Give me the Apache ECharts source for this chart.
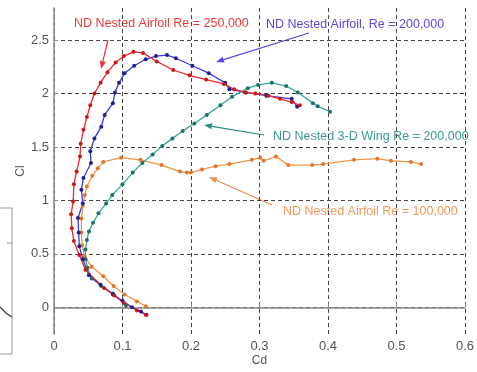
<!DOCTYPE html>
<html>
<head>
<meta charset="utf-8">
<script src="https://cdn.jsdelivr.net/npm/echarts@6/dist/echarts.min.js"></script>
<style>
  html, body { margin: 0; padding: 0; background: #fff; }
  #chart { width: 477px; height: 372px; }
</style>
</head>
<body>
<div id="chart"></div>
<script>
// drag polars, [Cd, Cl]
var airfoil250 = [
  [0.134, -0.07], [0.121, -0.03], [0.102, 0.04], [0.088, 0.11], [0.073, 0.18],
  [0.046, 0.35], [0.037, 0.49], [0.029, 0.62], [0.026, 0.74], [0.025, 0.87],
  [0.028, 0.99], [0.029, 1.15], [0.033, 1.27], [0.038, 1.41], [0.039, 1.53],
  [0.043, 1.66], [0.048, 1.78], [0.053, 1.89], [0.059, 2.00], [0.068, 2.10],
  [0.078, 2.20], [0.090, 2.29], [0.102, 2.35], [0.116, 2.39], [0.130, 2.38],
  [0.150, 2.30], [0.174, 2.22], [0.198, 2.17], [0.222, 2.13], [0.248, 2.09],
  [0.263, 2.04], [0.279, 2.01], [0.294, 2.00], [0.313, 1.98], [0.330, 1.95],
  [0.347, 1.92], [0.359, 1.89]
]
var airfoil200 = [
  [0.135, -0.07], [0.127, -0.04], [0.114, 0.00], [0.100, 0.06], [0.086, 0.12],
  [0.068, 0.21], [0.051, 0.30], [0.042, 0.45], [0.037, 0.57], [0.036, 0.70],
  [0.035, 0.835], [0.042, 0.97], [0.040, 1.10], [0.043, 1.21], [0.054, 1.35],
  [0.053, 1.46], [0.059, 1.58], [0.069, 1.69], [0.074, 1.80], [0.086, 1.91],
  [0.089, 2.01], [0.095, 2.10], [0.103, 2.19], [0.117, 2.26], [0.134, 2.32],
  [0.149, 2.35], [0.165, 2.36], [0.178, 2.33], [0.202, 2.26], [0.226, 2.19],
  [0.250, 2.10], [0.256, 2.04], [0.280, 2.01], [0.310, 1.98], [0.347, 1.95],
  [0.355, 1.875]
]
var wing200 = [
  [0.105, 0.02], [0.086, 0.13], [0.069, 0.20], [0.055, 0.27], [0.049, 0.37],
  [0.046, 0.45], [0.046, 0.54], [0.048, 0.63], [0.051, 0.71], [0.057, 0.79],
  [0.065, 0.88], [0.076, 0.97], [0.085, 1.05], [0.100, 1.15], [0.115, 1.26],
  [0.129, 1.35], [0.144, 1.43], [0.158, 1.51], [0.173, 1.58], [0.188, 1.65],
  [0.205, 1.72], [0.223, 1.80], [0.243, 1.89], [0.260, 1.97], [0.283, 2.05],
  [0.298, 2.08], [0.318, 2.10], [0.339, 2.07], [0.356, 2.01], [0.378, 1.91],
  [0.385, 1.88], [0.403, 1.83]
]
var airfoil100 = [
  [0.134, 0.01], [0.121, 0.055], [0.103, 0.12], [0.087, 0.20], [0.072, 0.29],
  [0.055, 0.38], [0.045, 0.47], [0.041, 0.58], [0.040, 0.70], [0.040, 0.83],
  [0.042, 0.95], [0.045, 1.05], [0.048, 1.13], [0.056, 1.23], [0.064, 1.30],
  [0.072, 1.36], [0.098, 1.40], [0.126, 1.38], [0.157, 1.33], [0.184, 1.27],
  [0.194, 1.26], [0.200, 1.26], [0.216, 1.29], [0.236, 1.32], [0.256, 1.34],
  [0.289, 1.38], [0.301, 1.40], [0.306, 1.37], [0.324, 1.41], [0.342, 1.33],
  [0.377, 1.33], [0.393, 1.34], [0.438, 1.38], [0.472, 1.39], [0.492, 1.37],
  [0.521, 1.36], [0.536, 1.34]
]
var clTicks = [0, 0.5, 1, 1.5, 2, 2.5]
var labels = [
  'ND Nested Airfoil Re = 250,000',
  'ND Nested Airfoil, Re = 200,000',
  'ND Nested 3-D Wing Re = 200,000',
  'ND Nested Airfoil Re = 100,000'
]

var font = '"Liberation Sans", Arial, sans-serif'

function polar(name, data, line, dot) {
  return {
    name: name,
    type: 'line',
    data: data,
    symbol: 'circle',
    symbolSize: 4,
    showSymbol: true,
    lineStyle: { color: line, width: 1.3 },
    itemStyle: { color: dot, borderWidth: 0 },
    emphasis: { disabled: true },
    animation: false
  }
}

// arrow = line + small head
function arrow(x1, y1, x2, y2, color) {
  var a = Math.atan2(y2 - y1, x2 - x1)
  var L = 8, W = 3
  var bx = x2 - L * Math.cos(a), by = y2 - L * Math.sin(a)
  var px = -Math.sin(a) * W, py = Math.cos(a) * W
  return [
    { type: 'line', shape: { x1: x1, y1: y1, x2: bx, y2: by }, style: { stroke: color, lineWidth: 1.2 } },
    { type: 'polygon', shape: { points: [[x2, y2], [bx + px, by + py], [bx - px, by - py]] }, style: { fill: color } }
  ]
}

function label(text, x, y, color) {
  return {
    type: 'text', x: x, y: y,
    style: { text: text, fill: color, font: '12.5px ' + font, textVerticalAlign: 'middle' }
  }
}

var graphics = []
  .concat([label(labels[0], 74, 24, '#ee3a3a')], arrow(108, 40, 101, 69, '#ee3030'))
  .concat([label(labels[1], 266, 25, '#5a48e0')], arrow(309, 33, 216, 62, '#5a48e0'))
  .concat([label(labels[2], 273, 137, '#3a9a90')], arrow(264, 135, 204, 125, '#2f8a80'))
  .concat([label(labels[3], 283, 212, '#f39a5c')], arrow(272, 205, 209, 177, '#f08a48'))
  .concat([
    // edge of neighbouring figure
    { type: 'rect', shape: { x: -5, y: 208, width: 17, height: 146 }, style: { fill: 'none', stroke: '#999', lineWidth: 1 } },
    { type: 'line', shape: { x1: 7, y1: 243, x2: 12, y2: 243 }, style: { stroke: '#999', lineWidth: 1 } },
    { type: 'polyline', shape: { points: [[0, 307], [6, 313], [12, 317]] }, style: { stroke: '#334', lineWidth: 1.2 } }
  ])

var chart = echarts.init(document.getElementById('chart'))
chart.setOption({
  animation: false,
  backgroundColor: '#fff',
  grid: { left: 54, right: 9, top: 8, bottom: 37 },
  xAxis: {
    type: 'value',
    min: 0, max: 0.6, interval: 0.1,
    name: 'Cd', nameLocation: 'middle', nameGap: 21, nameMoveOverlap: false,
    nameTextStyle: { color: '#555', fontSize: 12, fontFamily: font },
    axisLine: { show: true, lineStyle: { color: '#888', width: 1.5 } },
    axisTick: { show: true, inside: true, length: 4, lineStyle: { color: '#888' } },
    axisLabel: { color: '#555', fontSize: 13, fontFamily: font, margin: 6 },
    splitLine: { show: true, lineStyle: { color: '#444', type: [4, 3], width: 1 } }
  },
  yAxis: {
    type: 'value',
    min: -0.25, max: 2.8,
    name: 'Cl', nameLocation: 'middle', nameGap: 27, nameMoveOverlap: false,
    nameTextStyle: { color: '#555', fontSize: 12, fontFamily: font },
    axisLine: { show: true, lineStyle: { color: '#888', width: 1.5 } },
    axisTick: { show: true, inside: true, length: 4, customValues: clTicks, lineStyle: { color: '#888' } },
    axisLabel: { color: '#555', fontSize: 13, fontFamily: font, margin: 5, customValues: clTicks },
    splitLine: { show: true, lineStyle: { color: '#444', type: [4, 3], width: 1 } }
  },
  series: [
    polar(labels[3], airfoil100, '#f39548', '#e2772a'),
    polar(labels[2], wing200, '#3aa89c', '#1f6f68'),
    polar(labels[1], airfoil200, '#3838e6', '#20208e'),
    polar(labels[0], airfoil250, '#f02a2e', '#c81818')
  ],
  graphic: graphics
})
</script>
</body>
</html>
